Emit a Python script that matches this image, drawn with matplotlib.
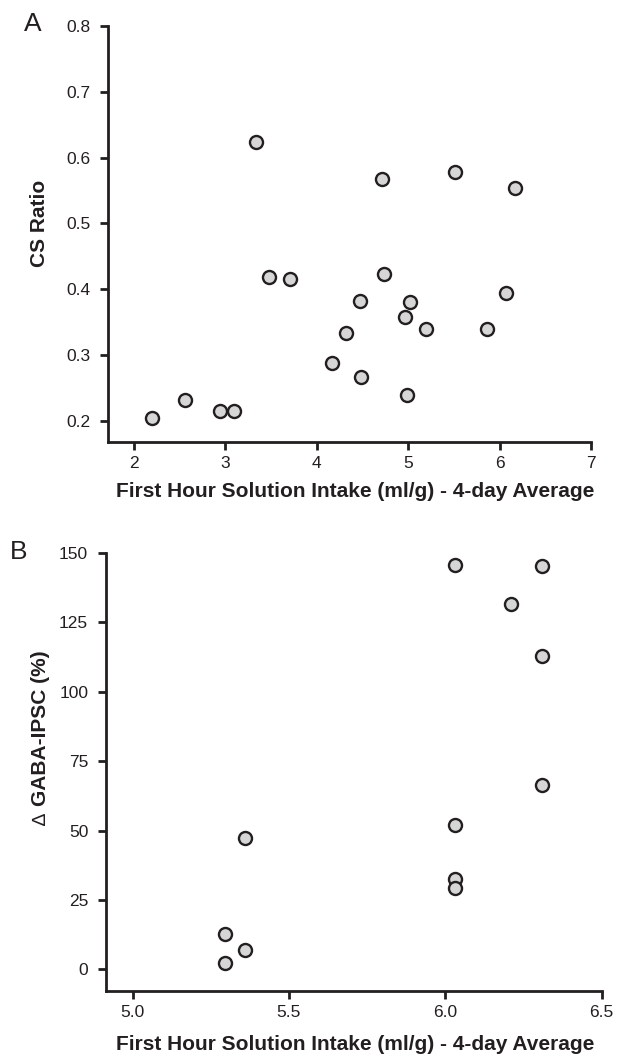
import matplotlib
matplotlib.use("Agg")
import matplotlib.pyplot as plt

plt.rcParams['font.family'] = ['Liberation Sans', 'DejaVu Sans']

# Panel A data
a_intake = [2.20, 2.56, 2.94, 3.09, 3.34, 3.48, 3.71, 4.17, 4.32, 4.47, 4.48,
            4.71, 4.74, 4.96, 5.02, 4.99, 5.19, 5.51, 5.86, 6.07, 6.17]
a_cs_ratio = [0.205, 0.232, 0.215, 0.215, 0.624, 0.418, 0.416, 0.288, 0.334, 0.382, 0.267,
              0.568, 0.423, 0.358, 0.380, 0.240, 0.340, 0.578, 0.339, 0.395, 0.554]

# Panel B data
b_intake = [5.295, 5.295, 5.36, 5.36, 6.03, 6.03, 6.03, 6.03, 6.21, 6.31, 6.31, 6.31]
b_gaba = [2.2, 12.6, 7.1, 47.2, 145.8, 52.0, 32.6, 29.2, 131.5, 145.2, 113.0, 66.5]

a_xticks = [2, 3, 4, 5, 6, 7]
a_yticks = [0.2, 0.3, 0.4, 0.5, 0.6, 0.7, 0.8]
b_xticks = [5.0, 5.5, 6.0, 6.5]
b_yticks = [0, 25, 50, 75, 100, 125, 150]

xlabel = "First Hour Solution Intake (ml/g) - 4-day Average"

W, H = 619, 1056
fig = plt.figure(figsize=(W / 100, H / 100), dpi=100)

def box(l, r, t, b):
    return [l / W, 1 - b / H, (r - l) / W, (b - t) / H]

axA = fig.add_axes(box(108, 591, 26, 442))
axB = fig.add_axes(box(106, 601.7, 553, 991))

def style(ax):
    for s in ['top', 'right']:
        ax.spines[s].set_visible(False)
    for s in ['left', 'bottom']:
        ax.spines[s].set_linewidth(2.0)
        ax.spines[s].set_color('#231f20')
    ax.tick_params(direction='out', length=5.8, width=2.0, labelsize=12.5,
                   colors='#231f20')
    ax.tick_params(axis='y', pad=7)
    ax.tick_params(axis='x', pad=4)
    ax.xaxis.label.set_va('center')
    ax.yaxis.label.set_va('center')

mk = dict(s=88, facecolor='#d6d6d6', edgecolor='#231f20', linewidth=1.7,
          zorder=3, clip_on=False)

axA.scatter(a_intake, a_cs_ratio, **mk)
axA.set_xlim(1.716, 7)
axA.set_ylim(0.168, 0.8)
axA.set_xticks(a_xticks)
axA.set_xticklabels([str(v) for v in a_xticks])
axA.set_yticks(a_yticks)
axA.set_yticklabels([f"{v:.1f}" for v in a_yticks])
axA.set_ylabel("CS Ratio", fontsize=15, fontweight='bold', color='#231f20')
axA.set_xlabel(xlabel, fontsize=15, fontweight='bold', color='#231f20')
style(axA)
axA.yaxis.set_label_coords(-0.141, 0.526)
axA.xaxis.set_label_coords(0.511, -0.118)

axB.scatter(b_intake, b_gaba, **mk)
axB.set_xlim(4.915, 6.5)
axB.set_ylim(-7.8, 150)
axB.set_xticks(b_xticks)
axB.set_xticklabels([f"{v:.1f}" for v in b_xticks])
axB.set_yticks(b_yticks)
axB.set_yticklabels([str(v) for v in b_yticks])
axB.set_ylabel("GABA-IPSC (%)", fontsize=15, fontweight='bold', color='#231f20')
axB.set_xlabel(xlabel, fontsize=15, fontweight='bold', color='#231f20')
style(axB)
axB.yaxis.set_label_coords(-0.133, 0.600)
axB.xaxis.set_label_coords(0.502, -0.122)
# thin delta sign before the y label, as in the reference
axB.text(-0.131, 0.393, "\u2206", transform=axB.transAxes, rotation=90,
         fontsize=14, fontweight='normal', ha='center', va='center',
         color='#231f20')

fig.text(33 / W, 1 - 24 / H, "A", fontsize=19, va='center', ha='center', color='#231f20')
fig.text(19 / W, 1 - 552 / H, "B", fontsize=19, va='center', ha='center', color='#231f20')

fig.savefig("out.png", dpi=100)
